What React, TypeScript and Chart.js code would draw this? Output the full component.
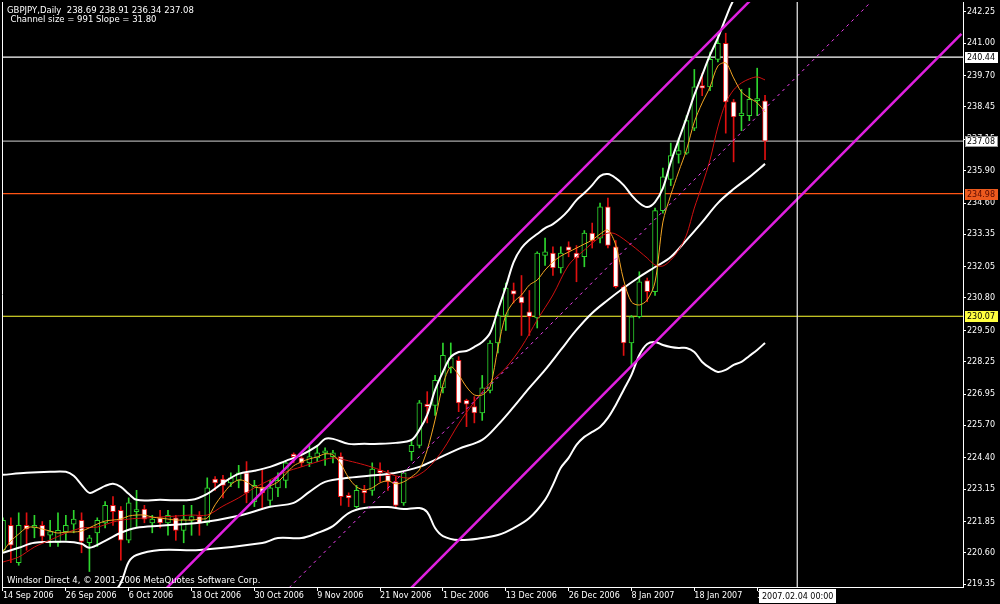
import React, { useEffect, useRef } from "react";
import { Chart, registerables } from "chart.js";

Chart.register(...registerables);

const FONT = "DejaVu Sans";

// ---------- axis ticks ----------
const xTickIndex = [0, 8, 16, 24, 32, 40, 48, 56, 64, 72, 80, 88, 96];
const xTickLabels = [
  "14 Sep 2006", "26 Sep 2006", "6 Oct 2006", "18 Oct 2006", "30 Oct 2006", "9 Nov 2006",
  "21 Nov 2006", "1 Dec 2006", "13 Dec 2006", "26 Dec 2006", "8 Jan 2007", "18 Jan 2007", "30 Jan 2007",
];
const yTickValues = [
  242.25, 241.0, 239.7, 238.45, 237.15, 235.9, 234.6, 233.35, 232.05, 230.8, 229.5, 228.25,
  226.95, 225.7, 224.4, 223.15, 221.85, 220.6, 219.35,
];

// ---------- candles (daily GBPJPY) ----------
const opens = [
  220.7, 221.7, 220.2, 221.7, 221.6, 221.7, 221.3, 221.0, 221.45, 221.75,
  221.9, 221.0, 221.4, 221.8, 222.5, 222.3, 221.1, 222.25, 222.35, 221.8,
  222.0, 221.8, 222.0, 221.5, 221.9, 222.05, 221.8, 223.55, 223.55, 223.4,
  223.5, 223.8, 222.65, 223.2, 222.7, 223.2, 223.5, 224.55, 224.4, 224.2,
  224.4, 224.6, 224.45, 224.45, 222.9, 222.45, 223.1, 223.1, 223.9, 223.7,
  223.45, 222.6, 224.65, 224.9, 226.55, 226.5, 227.2, 228.0, 228.3, 226.7,
  226.45, 226.2, 227.1, 229.0, 230.1, 231.1, 230.85, 230.25, 230.0, 232.5,
  232.6, 232.0, 232.85, 232.6, 232.45, 233.4, 233.2, 234.45, 232.85, 231.25,
  229.0, 230.05, 231.5, 231.05, 234.3, 235.55, 236.55, 236.6, 237.6, 239.3,
  239.25, 240.35, 241.0, 238.65, 238.1, 238.1, 238.7, 238.69,
];
const highs = [
  222.0, 222.0, 222.2, 222.2, 222.1, 221.85, 221.9, 222.2, 222.1, 222.3,
  222.2, 221.3, 222.0, 222.65, 222.85, 222.45, 222.8, 223.1, 222.5, 222.1,
  222.3, 222.3, 222.1, 222.5, 222.5, 222.25, 223.6, 223.65, 223.7, 223.8,
  224.1, 224.25, 223.5, 223.9, 223.5, 223.8, 224.3, 224.6, 224.45, 224.9,
  224.9, 224.8, 224.7, 224.6, 223.0, 223.3, 223.3, 224.2, 224.2, 223.9,
  223.65, 223.85, 225.1, 226.7, 227.05, 227.7, 229.0, 229.0, 228.45, 226.75,
  226.85, 227.7, 229.1, 230.3, 231.4, 231.4, 231.7, 231.1, 232.65, 233.2,
  232.85, 232.85, 233.05, 232.9, 233.5, 233.8, 234.6, 234.8, 233.1, 231.3,
  230.1, 231.85, 231.6, 234.4, 236.0, 237.0, 237.2, 238.1, 239.95, 239.8,
  240.65, 241.4, 241.4, 238.75, 239.15, 239.2, 240.0, 238.91,
];
const lows = [
  220.6, 220.2, 220.1, 220.7, 221.2, 221.0, 220.85, 220.85, 221.1, 221.4,
  220.6, 219.85, 220.85, 221.6, 221.7, 220.3, 221.0, 221.65, 221.8, 221.4,
  221.6, 221.3, 221.1, 221.0, 221.3, 221.3, 221.7, 223.1, 222.8, 223.25,
  223.2, 222.6, 222.45, 222.4, 222.5, 222.85, 223.2, 224.2, 224.05, 224.05,
  224.25, 224.1, 224.2, 222.5, 222.45, 222.4, 222.6, 222.9, 223.45, 223.1,
  222.4, 222.5, 224.3, 224.8, 225.8, 226.1, 227.0, 227.8, 226.25, 225.65,
  225.8, 225.9, 227.0, 228.6, 229.5, 230.6, 229.3, 229.3, 229.6, 232.1,
  231.7, 231.8, 232.45, 231.45, 232.05, 232.8, 233.0, 232.8, 231.2, 228.5,
  228.1, 230.0, 230.65, 230.9, 234.2, 235.3, 236.2, 236.55, 237.5, 238.9,
  239.1, 240.25, 237.4, 236.25, 237.5, 237.9, 238.1, 236.34,
];
const closes = [
  221.9, 220.9, 221.7, 221.55, 221.7, 221.25, 221.45, 221.5, 221.7, 221.95,
  221.05, 221.2, 221.9, 222.5, 222.25, 221.1, 222.6, 222.3, 221.95, 221.95,
  221.8, 222.1, 221.5, 221.95, 222.05, 221.8, 223.2, 223.4, 223.3, 223.6,
  223.8, 223.0, 223.3, 223.0, 223.2, 223.5, 224.2, 224.45, 224.2, 224.45,
  224.6, 224.65, 224.6, 222.85, 222.8, 223.1, 223.0, 223.95, 223.8, 223.45,
  222.5, 223.8, 224.9, 226.6, 226.45, 227.5, 228.5, 228.4, 226.6, 226.55,
  226.2, 227.2, 229.0, 230.1, 231.2, 230.95, 230.6, 230.05, 232.6, 232.65,
  232.0, 232.6, 232.7, 232.4, 233.4, 233.1, 234.45, 232.9, 231.25, 229.0,
  230.05, 231.45, 231.05, 234.3, 235.65, 236.5, 236.7, 237.9, 239.25, 239.2,
  240.35, 241.0, 238.65, 238.05, 238.2, 238.75, 238.75, 237.08,
];

// ---------- indicators ----------
const fastMA = [
  220.65, 221.07, 221.35, 221.6, 221.63, 221.55, 221.47, 221.39, 221.43, 221.43,
  221.47, 221.6, 221.75, 221.87, 221.91, 221.95, 222.07, 222.11, 222.11, 222.03,
  221.99, 221.95, 221.91, 221.91, 221.91, 221.95, 221.99, 222.52, 222.95, 223.32,
  223.52, 223.44, 223.24, 223.2, 223.28, 223.44, 223.76, 224.08, 224.24, 224.36,
  224.44, 224.56, 224.52, 224.16, 223.6, 223.24, 223.12, 223.2, 223.4, 223.48,
  223.36, 223.44, 223.64, 223.92, 224.72, 225.92, 227.32, 228.04, 227.72, 227.24,
  226.92, 226.92, 227.24, 228.8, 230.12, 230.64, 230.92, 231.32, 231.52, 231.92,
  232.24, 232.48, 232.64, 232.8, 232.96, 233.12, 233.36, 233.52, 232.92, 231.52,
  230.64, 230.52, 230.72, 231.44, 233.84, 234.92, 235.85, 236.73, 237.85, 238.61,
  239.25, 240.09, 240.21, 239.61, 239.05, 238.81, 238.61, 238.25,
];

const slowIdx = [
  0, 2, 4, 6, 8, 10, 12, 14, 16, 18, 20, 22, 24, 26, 28, 30, 32, 34, 36, 38, 40, 42, 44, 46, 48, 50,
  52, 54, 56, 58, 60, 62, 64, 66, 68, 70, 72, 74, 76, 77, 78, 80, 82, 83, 84, 85, 86, 87, 88, 89, 90,
  91, 92, 93, 94, 95, 96, 97,
];
const slowMA = [
  220.23, 220.43, 220.83, 221.11, 221.39, 221.59, 221.63, 221.83, 221.95, 221.99, 222.03, 222.07,
  222.11, 222.11, 222.47, 222.8, 223.2, 223.52, 223.84, 224.04, 224.24, 224.4, 224.28, 224.12,
  223.92, 223.68, 223.6, 223.96, 224.72, 225.76, 226.64, 227.4, 228.0, 228.84, 229.92, 230.92,
  232.12, 232.72, 233.24, 233.4, 233.36, 232.92, 232.4, 232.12, 232.08, 232.32, 232.72, 233.32,
  234.4, 235.32, 236.33, 237.65, 238.61, 239.13, 239.41, 239.57, 239.65, 239.53,
];

const upperIdx = [
  0, 3, 6, 8, 9, 10, 11, 12, 13, 14, 15, 16, 17, 20, 24, 26, 28, 30, 32, 34, 36, 38, 40, 41, 42,
  44, 46, 48, 50, 52, 53, 54, 55, 56, 57, 58, 59, 60, 61, 62, 63, 64, 65, 66, 67, 68, 69, 70, 71,
  72, 73, 74, 75, 76, 77, 78, 79, 80, 81, 82, 83, 84, 85, 86, 87, 88, 89, 90, 91, 92, 93, 94, 95, 97,
];
const upperBand = [
  223.72, 223.8, 223.84, 223.84, 223.68, 223.32, 223.0, 223.12, 223.28, 223.36, 223.24, 222.96, 222.72,
  222.72, 222.72, 222.96, 223.4, 223.76, 223.88, 224.04, 224.28, 224.52, 224.88, 225.16, 225.16,
  224.96, 224.96, 224.96, 225.0, 225.12, 225.52, 226.12, 227.12, 227.84, 228.44, 228.64, 228.68,
  228.84, 229.04, 229.4, 230.32, 231.24, 232.24, 232.8, 233.12, 233.36, 233.6, 233.76, 234.0,
  234.32, 234.72, 235.0, 235.32, 235.68, 235.76, 235.6, 235.32, 234.92, 234.6, 234.44, 234.64,
  235.2, 236.24, 237.13, 238.0, 238.93, 239.73, 240.53, 241.21, 242.01, 242.73, 243.05, 243.33, 243.5,
];

const middleIdx = [
  0, 2, 4, 8, 10, 11, 13, 15, 17, 20, 25, 30, 34, 37, 39, 41, 44, 48, 50, 53, 55, 58, 61, 63, 65,
  67, 69, 71, 73, 75, 77, 79, 81, 83, 85, 87, 89, 91, 93, 95, 97,
];
const middleBand = [
  220.6, 220.8, 221.0, 221.04, 220.96, 220.8, 221.08, 221.4, 221.6, 221.68, 221.8, 222.08, 222.44,
  222.6, 223.04, 223.44, 223.6, 223.72, 223.8, 224.04, 224.32, 224.76, 225.12, 225.72, 226.44,
  227.2, 227.92, 228.72, 229.52, 230.2, 230.72, 231.2, 231.64, 232.04, 232.44, 233.12, 233.84,
  234.6, 235.16, 235.64, 236.17,
];

const lowerIdx = [
  0, 5, 11, 14, 15, 16, 17, 20, 25, 33, 35, 38, 40, 42, 44, 46, 49, 51, 53, 54, 55, 56, 58, 61, 63,
  65, 67, 69, 70, 71, 72, 73, 74, 75, 76, 77, 78, 79, 80, 81, 82, 83, 84, 85, 86, 87, 88, 89, 90,
  91, 92, 93, 94, 95, 96, 97,
];
const lowerBand = [
  217.47, 218.15, 218.6, 219.03, 219.39, 220.23, 220.51, 220.71, 220.71, 220.99, 221.19, 221.19,
  221.39, 221.67, 222.19, 222.39, 222.43, 222.35, 222.39, 222.23, 221.59, 221.27, 221.11, 221.19,
  221.31, 221.59, 221.99, 222.72, 223.32, 224.0, 224.4, 224.92, 225.24, 225.44, 225.64, 226.0,
  226.52, 227.12, 227.72, 228.52, 228.96, 229.04, 228.92, 228.84, 228.8, 228.8, 228.64, 228.24,
  228.0, 227.84, 227.92, 228.12, 228.24, 228.48, 228.72, 229.0,
];

// regression channel end points (bar index -> price)
const channelIdx = [0, 122];
const channelLower = [202.74, 241.37];
const channelUpper = [212.59, 251.22];
const channelMiddle = [207.67, 246.3];

// horizontal price lines
const priceLevels = [240.44, 237.08, 234.98, 230.07];
const priceLineColors = ["#ffffff", "#a8a8a8", "#ff5414", "#ffff30"];
const priceBoxFill = ["#ffffff", "#ffffff", "#ec5a1e", "#ffff40"];
const priceBoxText = ["#000000", "#000000", "#5a0a00", "#000000"];

// time cursor
const cursorIndex = 101.1;
const cursorLabel = "2007.02.04 00:00";

const symbolTitle = "GBPJPY,Daily";
const channelText = "Channel size = 991 Slope = 31.80";
const footerText = "Windsor Direct 4, \u00a9 2001-2006 MetaQuotes Software Corp.";

const X_MIN = -0.127;
const X_MAX = 122.2;
const Y_MIN = 219.23;
const Y_MAX = 242.65;

const BULL = "#2ed62e";
const BEAR = "#e01010";

function pts(idx: number[], vals: number[]) {
  return idx.map((x, i) => ({ x, y: vals[i] }));
}

const overlayPlugin = {
  id: "mtOverlay",
  beforeDraw(chart: any) {
    const { ctx, width, height } = chart;
    ctx.save();
    ctx.fillStyle = "#000";
    ctx.fillRect(0, 0, width, height);
    ctx.restore();
  },
  afterDraw(chart: any) {
    const { ctx, chartArea, scales } = chart;
    const ys = scales.y;
    const xs = scales.x;
    ctx.save();
    // left frame line
    ctx.strokeStyle = "#ffffff";
    ctx.lineWidth = 1;
    ctx.beginPath();
    ctx.moveTo(chartArea.left + 0.5, chartArea.top);
    ctx.lineTo(chartArea.left + 0.5, chartArea.bottom);
    ctx.stroke();

    ctx.font = `8.5px "${FONT}"`;
    ctx.textAlign = "left";
    ctx.textBaseline = "alphabetic";
    ctx.fillStyle = "#ffffff";
    const n = closes.length - 1;
    const head = `${symbolTitle}  ${opens[n].toFixed(2)} ${highs[n].toFixed(2)} ${lows[n].toFixed(2)} ${closes[n].toFixed(2)}`;
    ctx.fillText(head, 7, 12.5);
    ctx.fillText(channelText, 10.5, 21.5);
    ctx.fillText(footerText, 7, 582.5);

    // price boxes on the axis
    ctx.font = `8px "${FONT}"`;
    priceLevels.forEach((v, i) => {
      const py = Math.round(ys.getPixelForValue(v));
      const bx = chartArea.right + 2;
      ctx.fillStyle = priceBoxFill[i];
      ctx.fillRect(bx, py - 5, 998 - bx, 11);
      ctx.strokeStyle = i === 1 ? "#9a9a9a" : priceBoxFill[i];
      ctx.strokeRect(bx + 0.5, py - 4.5, 998 - bx - 1, 10);
      ctx.fillStyle = priceBoxText[i];
      ctx.textBaseline = "middle";
      ctx.fillText(v.toFixed(2), chartArea.right + 4, py + 0.5);
    });

    // time cursor box
    const cx = xs.getPixelForValue(cursorIndex);
    const tw = ctx.measureText(cursorLabel).width;
    const bw = Math.round(tw + 6);
    const bx0 = Math.round(cx - bw / 2);
    ctx.fillStyle = "#ffffff";
    ctx.fillRect(bx0, chartArea.bottom + 2, bw, 14);
    ctx.fillStyle = "#000000";
    ctx.textBaseline = "middle";
    ctx.textAlign = "left";
    ctx.fillText(cursorLabel, bx0 + 3, chartArea.bottom + 9.5);
    ctx.restore();
  },
};

export default function App() {
  const canvasRef = useRef<HTMLCanvasElement | null>(null);

  useEffect(() => {
    if (!canvasRef.current) return;
    const idx = closes.map((_, i) => i);
    const isBull = idx.map((i) => closes[i] >= opens[i]);

    const lineBase = {
      type: "line" as const,
      pointRadius: 0,
      pointHoverRadius: 0,
      fill: false,
    };

    const datasets: any[] = [
      // horizontal price lines (behind candles)
      ...priceLevels.map((v, i) => ({
        ...lineBase,
        data: [
          { x: -1, y: v },
          { x: 130, y: v },
        ],
        borderColor: priceLineColors[i],
        borderWidth: 1.2,
        order: 30,
      })),
      // wicks
      {
        type: "bar",
        data: idx.map((i) => ({ x: i, y: [lows[i], highs[i]] })),
        backgroundColor: idx.map((i) => (isBull[i] ? BULL : BEAR)),
        borderWidth: 0,
        barThickness: 1,
        grouped: false,
        order: 20,
      },
      // bodies
      {
        type: "bar",
        data: idx.map((i) => ({ x: i, y: [opens[i], closes[i]] })),
        backgroundColor: idx.map((i) => (isBull[i] ? "#000000" : "#ffffff")),
        borderColor: idx.map((i) => (isBull[i] ? BULL : BEAR)),
        borderWidth: 1,
        borderSkipped: false,
        barThickness: 5,
        minBarLength: 2,
        grouped: false,
        order: 19,
      },
      // Bollinger bands
      { ...lineBase, data: pts(upperIdx, upperBand), borderColor: "#ffffff", borderWidth: 2, tension: 0.35, order: 8 },
      { ...lineBase, data: pts(middleIdx, middleBand), borderColor: "#ffffff", borderWidth: 2, tension: 0.35, order: 8 },
      { ...lineBase, data: pts(lowerIdx, lowerBand), borderColor: "#ffffff", borderWidth: 2, tension: 0.35, order: 8 },
      // moving averages
      { ...lineBase, data: pts(slowIdx, slowMA), borderColor: "#d01010", borderWidth: 1, tension: 0.3, order: 6 },
      { ...lineBase, data: pts(idx, fastMA), borderColor: "#f5a623", borderWidth: 1, tension: 0.3, order: 5 },
      // regression channel
      { ...lineBase, data: pts(channelIdx, channelUpper), borderColor: "#e020e0", borderWidth: 2.5, order: 3 },
      { ...lineBase, data: pts(channelIdx, channelLower), borderColor: "#e020e0", borderWidth: 2.5, order: 3 },
      {
        ...lineBase,
        data: pts(channelIdx, channelMiddle),
        borderColor: "#f040f0",
        borderWidth: 1,
        borderDash: [3, 4],
        order: 3,
      },
      // time cursor line
      {
        ...lineBase,
        data: [
          { x: cursorIndex, y: 210 },
          { x: cursorIndex, y: 250 },
        ],
        borderColor: "#f0f0f0",
        borderWidth: 1.2,
        order: 1,
      },
    ];

    const chart = new Chart(canvasRef.current, {
      type: "bar",
      data: { datasets },
      options: {
        animation: false,
        responsive: false,
        devicePixelRatio: 1,
        events: [],
        layout: { padding: { left: 2, top: 2, right: 0, bottom: 0 } },
        plugins: { legend: { display: false }, tooltip: { enabled: false }, title: { display: false } },
        scales: {
          x: {
            type: "linear",
            min: X_MIN,
            max: X_MAX,
            offset: false,
            grid: { display: true, drawOnChartArea: false, drawTicks: true, tickLength: 4, color: "#ffffff", offset: false },
            border: { display: true, color: "#ffffff", width: 1 },
            ticks: {
              color: "#ffffff",
              font: { family: FONT, size: 8 },
              align: "start",
              padding: 0,
              maxRotation: 0,
              minRotation: 0,
              autoSkip: false,
              callback: (_v: any, i: number) => xTickLabels[i],
            },
            afterBuildTicks: (s: any) => {
              s.ticks = xTickIndex.map((v) => ({ value: v }));
            },
            afterFit: (s: any) => {
              s.height = 17;
              s.paddingLeft = 0;
              s.paddingRight = 0;
            },
          },
          y: {
            type: "linear",
            position: "right",
            min: Y_MIN,
            max: Y_MAX,
            grid: { display: true, drawOnChartArea: false, drawTicks: true, tickLength: 3, color: "#ffffff" },
            border: { display: true, color: "#ffffff", width: 1 },
            ticks: {
              color: "#ffffff",
              font: { family: FONT, size: 8 },
              padding: 1,
              autoSkip: false,
              callback: (v: any) => Number(v).toFixed(2),
            },
            afterBuildTicks: (s: any) => {
              s.ticks = yTickValues.map((v) => ({ value: v }));
            },
            afterFit: (s: any) => {
              s.width = 37;
              s.paddingTop = 0;
              s.paddingBottom = 0;
            },
          },
        },
      } as any,
      plugins: [overlayPlugin],
    });
    return () => chart.destroy();
  }, []);

  return (
    <div style={{ position: "fixed", left: 0, top: 0, width: 1000, height: 604, background: "#000" }}>
      <canvas ref={canvasRef} width={1000} height={604} style={{ display: "block", width: 1000, height: 604 }} />
    </div>
  );
}
